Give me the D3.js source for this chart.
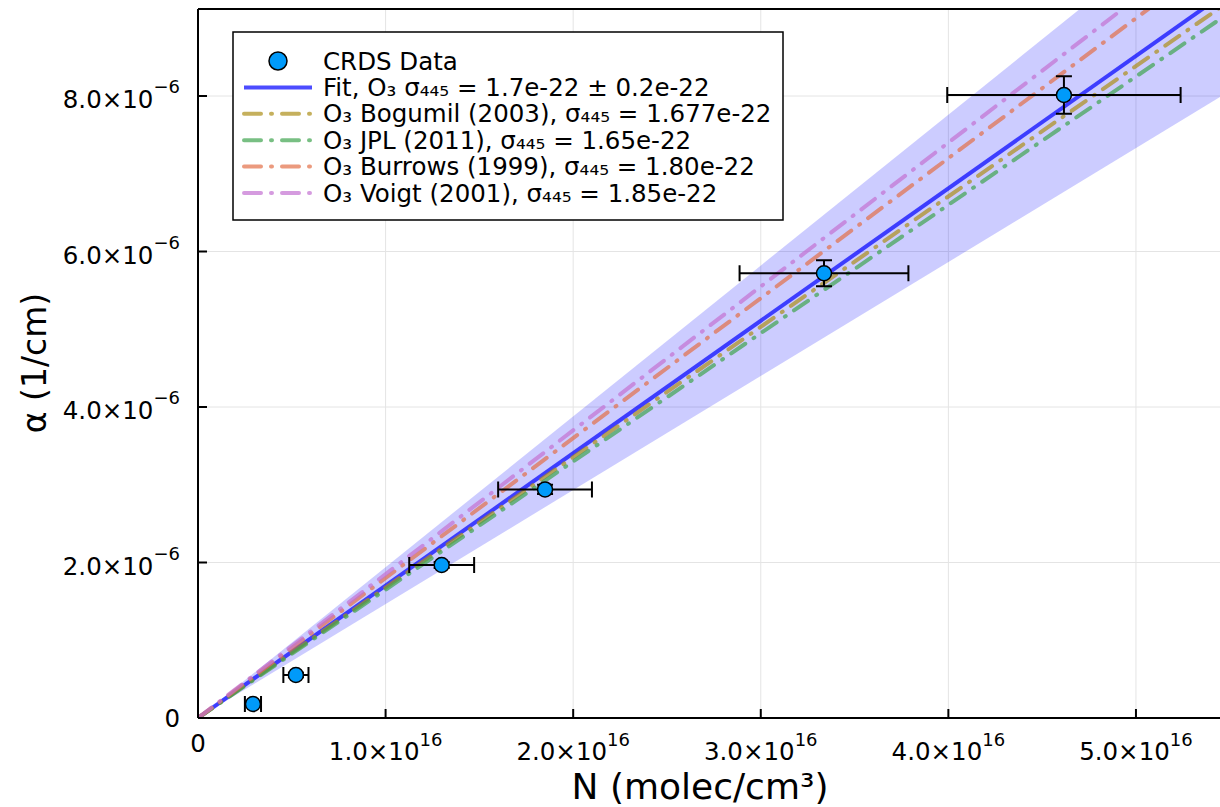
<!DOCTYPE html>
<html>
<head>
<meta charset="utf-8">
<script src="https://cdn.jsdelivr.net/npm/d3@7"></script>
<style>
  body { margin: 0; background: #fff; }
  svg { display: block; font-family: "DejaVu Sans", sans-serif; }
</style>
</head>
<body>
<div class="chart"></div>
<script>
// measured points (N in molec/cm^3, alpha in 1/cm)
var dataN    = [0.293e16, 0.522e16, 1.299e16, 1.850e16, 3.337e16, 4.616e16];
var dataNerr = [0.043e16, 0.067e16, 0.173e16, 0.250e16, 0.450e16, 0.622e16];
var dataA    = [0.18e-6, 0.553e-6, 1.968e-6, 2.94e-6, 5.72e-6, 8.013e-6];
var dataAerr = [0.02e-6, 0.03e-6, 0.04e-6, 0.06e-6, 0.167e-6, 0.242e-6];

// fit slope and its band
var fitSigma = 1.703e-22;
var bandLow  = 1.466e-22;
var bandHigh = 1.940e-22;

// literature cross sections
var refNames  = ["O₃ Bogumil (2003), σ₄₄₅ = 1.677e-22", "O₃ JPL (2011), σ₄₄₅ = 1.65e-22",
                 "O₃ Burrows (1999), σ₄₄₅ = 1.80e-22", "O₃ Voigt (2001), σ₄₄₅ = 1.85e-22"];
var refSigma  = [1.677e-22, 1.65e-22, 1.80e-22, 1.85e-22];
var refColors = ["#AC8E18", "#3EA44E", "#E36F47", "#C371D2"];

var xTicks = [0, 1e16, 2e16, 3e16, 4e16, 5e16];
var xTickMain = ["0", "1.0×10", "2.0×10", "3.0×10", "4.0×10", "5.0×10"];
var xTickSup  = ["", "16", "16", "16", "16", "16"];
var yTicks = [0, 2e-6, 4e-6, 6e-6, 8e-6];
var yTickMain = ["0", "2.0×10", "4.0×10", "6.0×10", "8.0×10"];
var yTickSup  = ["", "−6", "−6", "−6", "−6"];

var W = 1220, H = 807;
var pLeft = 198, pRight = 1220, pTop = 9, pBottom = 718;

var x = d3.scaleLinear().domain([0, 5.448e16]).range([pLeft, pRight]);
var y = d3.scaleLinear().domain([0, 9.119e-6]).range([pBottom, pTop]);
var xMax = x.domain()[1];

var svg = d3.select(".chart").append("svg")
    .attr("width", W).attr("height", H);

svg.append("defs").append("clipPath").attr("id", "plotclip")
    .append("rect")
    .attr("x", pLeft).attr("y", pTop)
    .attr("width", pRight - pLeft).attr("height", pBottom - pTop);

// grid
svg.append("g").selectAll("line").data(xTicks.slice(1)).enter().append("line")
    .attr("x1", function(d) { return x(d); }).attr("x2", function(d) { return x(d); })
    .attr("y1", pTop).attr("y2", pBottom)
    .attr("stroke", "#e4e4e4").attr("stroke-width", 1);
svg.append("g").selectAll("line").data(yTicks.slice(1)).enter().append("line")
    .attr("x1", pLeft).attr("x2", pRight)
    .attr("y1", function(d) { return y(d); }).attr("y2", function(d) { return y(d); })
    .attr("stroke", "#e4e4e4").attr("stroke-width", 1);

var plot = svg.append("g").attr("clip-path", "url(#plotclip)");

// confidence band
var band = [[0, 0], [xMax, bandHigh * xMax], [xMax, bandLow * xMax]];
plot.append("path")
    .attr("d", "M" + band.map(function(p) { return x(p[0]) + "," + y(p[1]); }).join("L") + "Z")
    .attr("fill", "rgba(0,0,255,0.2)");

var line = d3.line()
    .x(function(d) { return x(d[0]); })
    .y(function(d) { return y(d[1]); });

plot.append("path")
    .attr("d", line([[0, 0], [xMax, fitSigma * xMax]]))
    .attr("fill", "none")
    .attr("stroke", "blue").attr("stroke-opacity", 0.7)
    .attr("stroke-width", 4);

var dashDot = "17 10 1 10";

for (var i = 0; i < refSigma.length; ++i) {
    plot.append("path")
        .attr("d", line([[0, 0], [xMax, refSigma[i] * xMax]]))
        .attr("fill", "none")
        .attr("stroke", refColors[i]).attr("stroke-opacity", 0.7)
        .attr("stroke-width", 4)
        .attr("stroke-linecap", "round")
        .attr("stroke-dasharray", dashDot);
}

// error bars
var cap = 8;
var eb = plot.append("g").attr("stroke", "#000").attr("stroke-width", 2).attr("fill", "none");
for (var j = 0; j < dataN.length; ++j) {
    var cx = x(dataN[j]), cy = y(dataA[j]);
    var x0 = x(dataN[j] - dataNerr[j]), x1 = x(dataN[j] + dataNerr[j]);
    var y0 = y(dataA[j] - dataAerr[j]), y1 = y(dataA[j] + dataAerr[j]);
    eb.append("path").attr("d",
        "M" + x0 + "," + cy + "H" + x1 +
        "M" + x0 + "," + (cy - cap) + "V" + (cy + cap) +
        "M" + x1 + "," + (cy - cap) + "V" + (cy + cap) +
        "M" + cx + "," + y0 + "V" + y1 +
        "M" + (cx - cap) + "," + y0 + "H" + (cx + cap) +
        "M" + (cx - cap) + "," + y1 + "H" + (cx + cap));
}

plot.append("g").selectAll("circle").data(dataN).enter().append("circle")
    .attr("cx", function(d) { return x(d); })
    .attr("cy", function(d, k) { return y(dataA[k]); })
    .attr("r", 7.5)
    .attr("fill", "#009AFA")
    .attr("stroke", "#000").attr("stroke-width", 1.5);

// frame
svg.append("line").attr("x1", pLeft).attr("x2", pRight).attr("y1", pBottom).attr("y2", pBottom)
    .attr("stroke", "#000").attr("stroke-width", 2);
svg.append("line").attr("x1", pLeft).attr("x2", pRight).attr("y1", pTop).attr("y2", pTop)
    .attr("stroke", "#000").attr("stroke-width", 2);
svg.append("line").attr("x1", pLeft).attr("x2", pLeft).attr("y1", pTop).attr("y2", pBottom)
    .attr("stroke", "#000").attr("stroke-width", 2);

// ticks
svg.append("g").selectAll("line").data(xTicks.slice(1)).enter().append("line")
    .attr("x1", function(d) { return x(d); }).attr("x2", function(d) { return x(d); })
    .attr("y1", pBottom).attr("y2", pBottom - 9)
    .attr("stroke", "#000").attr("stroke-width", 2);
svg.append("g").selectAll("line").data(yTicks.slice(1)).enter().append("line")
    .attr("x1", pLeft).attr("x2", pLeft + 9)
    .attr("y1", function(d) { return y(d); }).attr("y2", function(d) { return y(d); })
    .attr("stroke", "#000").attr("stroke-width", 2);

// tick labels
var fsTick = 24.5, fsSup = 18;
var xl = svg.append("g").attr("font-size", fsTick).attr("text-anchor", "middle");
for (var a = 0; a < xTicks.length; ++a) {
    var t = xl.append("text")
        .attr("x", x(xTicks[a]))
        .attr("y", xTickSup[a] ? 760 : 752);
    t.append("tspan").text(xTickMain[a]);
    if (xTickSup[a]) {
        t.append("tspan").attr("font-size", fsSup).attr("dy", -14).text(xTickSup[a]);
    }
}
var yl = svg.append("g").attr("font-size", fsTick).attr("text-anchor", "end");
for (var b = 0; b < yTicks.length; ++b) {
    var ty = yl.append("text")
        .attr("x", 180)
        .attr("y", y(yTicks[b]) + (yTickSup[b] ? 12 : 9));
    ty.append("tspan").text(yTickMain[b]);
    if (yTickSup[b]) {
        ty.append("tspan").attr("font-size", fsSup).attr("dy", -15).text(yTickSup[b]);
    }
}

// axis titles
svg.append("text")
    .attr("x", 700).attr("y", 799)
    .attr("text-anchor", "middle").attr("font-size", 36)
    .text("N (molec/cm³)");
svg.append("text")
    .attr("transform", "translate(46,363) rotate(-90)")
    .attr("text-anchor", "middle").attr("font-size", 33)
    .text("α (1/cm)");

// legend
var leg = svg.append("g");
leg.append("rect")
    .attr("x", 233).attr("y", 32).attr("width", 550).attr("height", 188)
    .attr("fill", "#fff").attr("stroke", "#000").attr("stroke-width", 1.5);

var rowY = function(k) { return 61 + k * 26.4; };
var legLabels = ["CRDS Data", "Fit, O₃ σ₄₄₅ = 1.7e-22 ± 0.2e-22"].concat(refNames);

leg.append("circle").attr("cx", 278).attr("cy", rowY(0)).attr("r", 9)
    .attr("fill", "#009AFA").attr("stroke", "#000").attr("stroke-width", 1.5);
leg.append("line").attr("x1", 244).attr("x2", 312).attr("y1", rowY(1)).attr("y2", rowY(1))
    .attr("stroke", "blue").attr("stroke-opacity", 0.7).attr("stroke-width", 4);
for (var r = 0; r < refColors.length; ++r) {
    leg.append("line").attr("x1", 244).attr("x2", 312)
        .attr("y1", rowY(r + 2)).attr("y2", rowY(r + 2))
        .attr("stroke", refColors[r]).attr("stroke-opacity", 0.7)
        .attr("stroke-width", 4).attr("stroke-linecap", "round")
        .attr("stroke-dasharray", dashDot);
}
leg.selectAll("text.lab").data(legLabels).enter().append("text")
    .attr("class", "lab")
    .attr("x", 323)
    .attr("y", function(d, k) { return rowY(k) + 8.5; })
    .attr("font-size", 24.5)
    .text(function(d) { return d; });
</script>
</body>
</html>
